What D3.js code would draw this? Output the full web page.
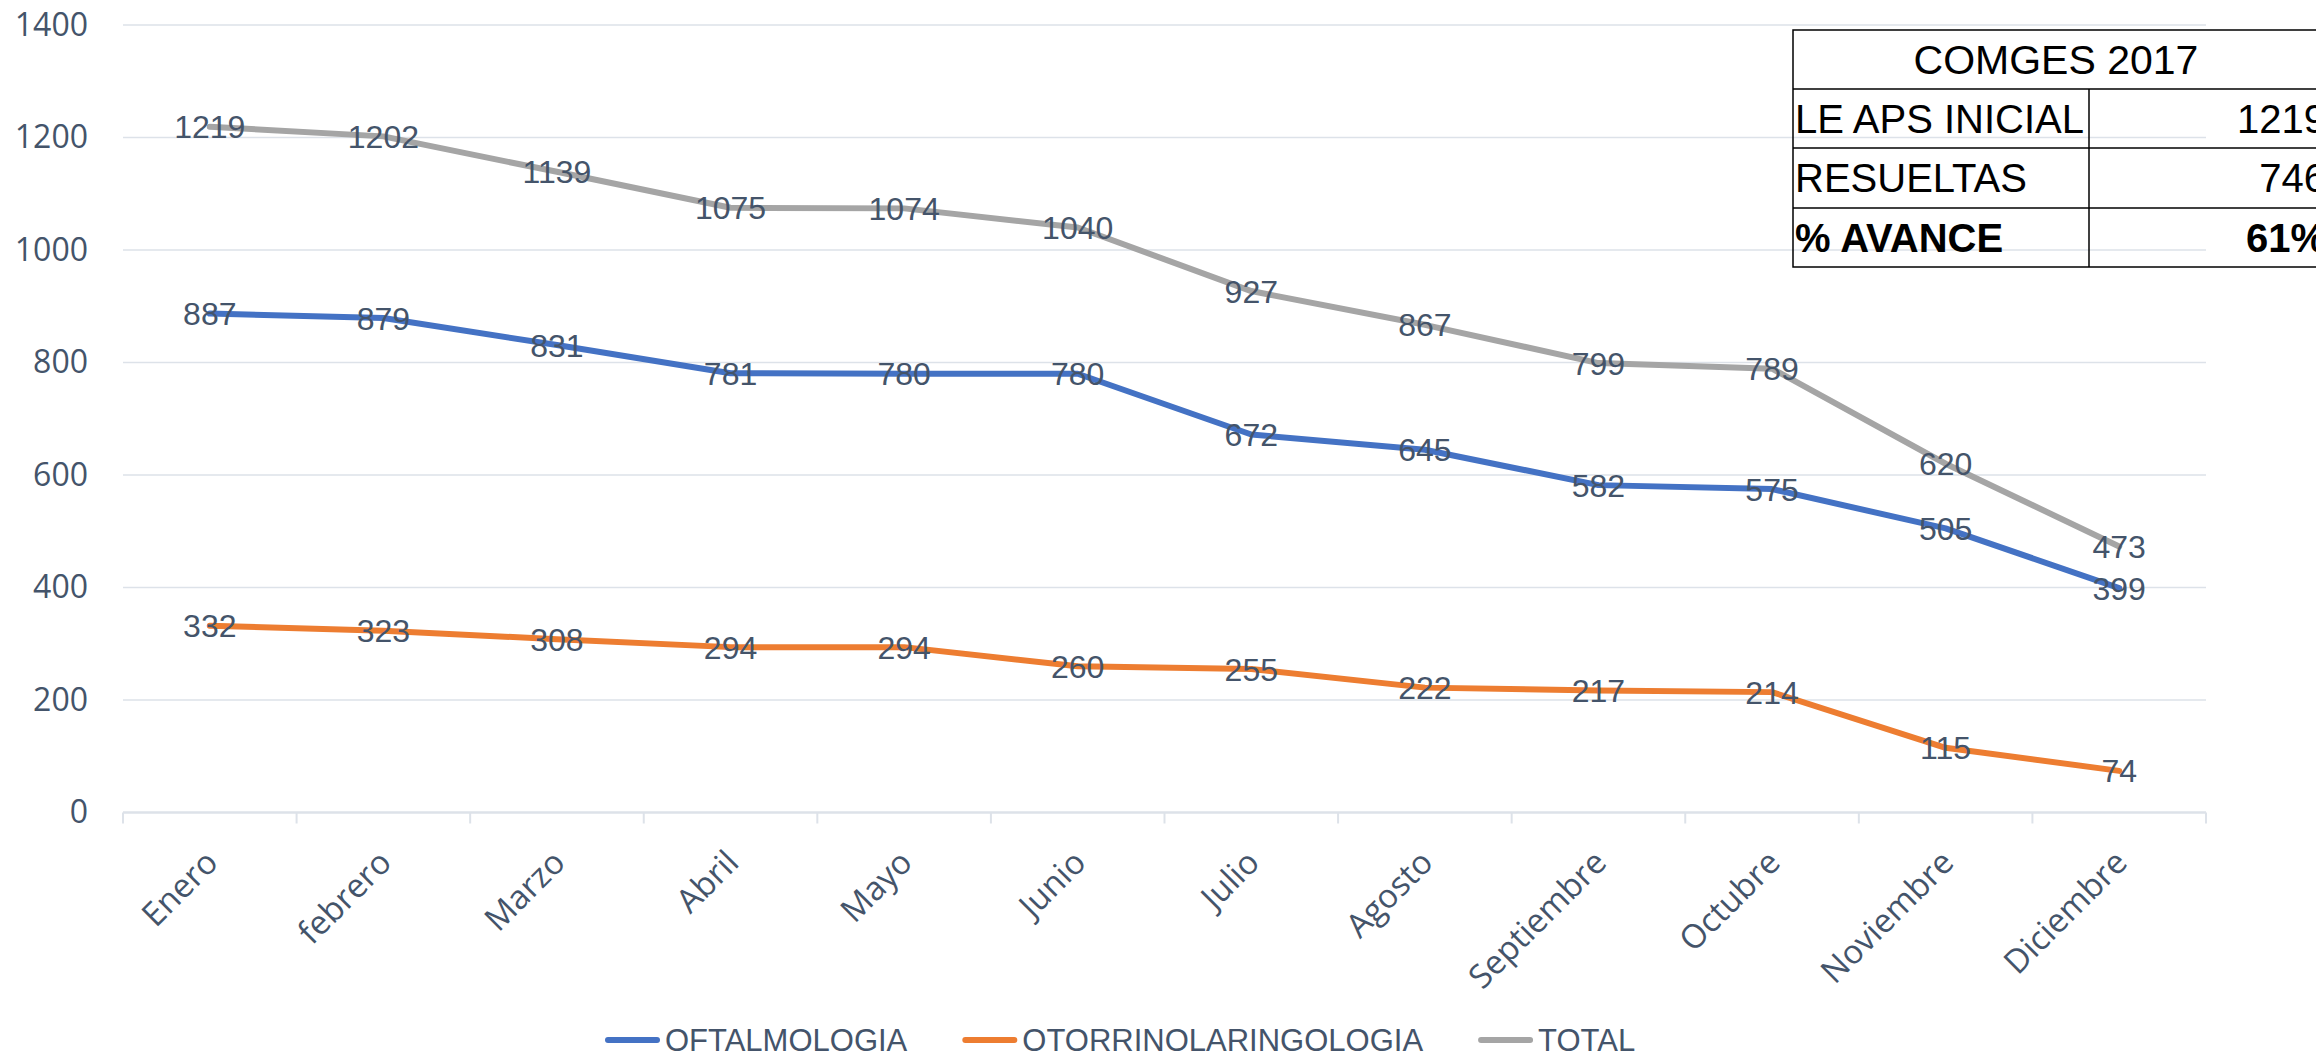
<!DOCTYPE html>
<html>
<head>
<meta charset="utf-8">
<script src="https://cdn.jsdelivr.net/npm/d3@7"></script>
<style>
  body { margin: 0; background: #fff; }
  svg { display: block; }
</style>
</head>
<body>
<div class="chart"></div>
<script>
// data
var months = ['Enero','febrero','Marzo','Abril','Mayo','Junio','Julio','Agosto','Septiembre','Octubre','Noviembre','Diciembre'];
var oftalmologia = [887,879,831,781,780,780,672,645,582,575,505,399];
var otorrino     = [332,323,308,294,294,260,255,222,217,214,115,74];
var total        = [1219,1202,1139,1075,1074,1040,927,867,799,789,620,473];
var seriesNames  = ['OFTALMOLOGIA','OTORRINOLARINGOLOGIA','TOTAL'];
var yTicks       = [0,200,400,600,800,1000,1200,1400];

var tableTitle = 'COMGES 2017';
var tableLabels = ['LE APS INICIAL','RESUELTAS','% AVANCE'];
var tableValues = ['1219','746','61%'];

// layout
var W = 2316, H = 1057,
    plotLeft = 123, plotRight = 2206, plotTop = 25, plotBottom = 812.5,
    colors = ['#4472C4','#ED7D31','#A5A5A5'],
    textColor = '#44546A',
    gridColor = '#DDE2E9';

var series = [oftalmologia, otorrino, total];

var x = d3.scaleBand().domain(months).range([plotLeft, plotRight]);
var y = d3.scaleLinear().domain([0, 1400]).range([plotBottom, plotTop]);

var svg = d3.select('.chart')
    .append('svg')
    .attr('width', W)
    .attr('height', H);

// gridlines
svg.append('g')
    .selectAll('line')
    .data(yTicks.filter(function(d){ return d > 0; }))
    .enter()
    .append('line')
    .attr('x1', plotLeft).attr('x2', plotRight)
    .attr('y1', function(d){ return y(d); })
    .attr('y2', function(d){ return y(d); })
    .attr('stroke', gridColor)
    .attr('stroke-width', 1.6);

// y axis labels
var yAxis = d3.axisLeft(y).tickValues(yTicks).tickSize(0).tickPadding(35).tickFormat(d3.format('d'));
svg.append('g')
    .attr('transform', 'translate(' + plotLeft + ',0)')
    .call(yAxis)
    .call(function(g){ g.select('.domain').remove(); })
    .selectAll('text')
    .attr('fill', textColor)
    .style('font-family', '"Open Sans", sans-serif')
    .style('font-size', '32px');

// x axis line + boundary ticks
var xg = svg.append('g');
xg.append('line')
    .attr('x1', plotLeft).attr('x2', plotRight)
    .attr('y1', plotBottom).attr('y2', plotBottom)
    .attr('stroke', gridColor).attr('stroke-width', 2.4);
var bounds = months.map(function(m){ return x(m); }).concat([plotRight]);
xg.selectAll('.tk')
    .data(bounds)
    .enter()
    .append('line')
    .attr('x1', function(d){ return d; }).attr('x2', function(d){ return d; })
    .attr('y1', plotBottom).attr('y2', plotBottom + 11)
    .attr('stroke', gridColor).attr('stroke-width', 2);

var xAxis = d3.axisBottom(x).tickSize(0);
svg.append('g')
    .attr('transform', 'translate(0,' + plotBottom + ')')
    .call(xAxis)
    .call(function(g){ g.select('.domain').remove(); })
    .selectAll('text')
    .attr('x', 0).attr('y', 0).attr('dy', 0)
    .attr('transform', 'translate(10,52) rotate(-45)')
    .style('text-anchor', 'end')
    .attr('fill', textColor)
    .style('font-family', '"Open Sans", sans-serif')
    .style('font-size', '33px');

// lines
var line = d3.line()
    .x(function(d, i){ return x(months[i]) + x.bandwidth() / 2; })
    .y(function(d){ return y(d); });

svg.append('g')
    .selectAll('path')
    .data(series)
    .enter()
    .append('path')
    .attr('d', line)
    .attr('fill', 'none')
    .attr('stroke', function(d, i){ return colors[i]; })
    .attr('stroke-width', 6)
    .attr('stroke-linejoin', 'round')
    .attr('stroke-linecap', 'round');

// data labels
series.forEach(function(s){
    svg.append('g')
        .selectAll('text')
        .data(s)
        .enter()
        .append('text')
        .attr('x', function(d, i){ return x(months[i]) + x.bandwidth() / 2; })
        .attr('y', function(d){ return y(d); })
        .attr('dy', '0.36em')
        .attr('text-anchor', 'middle')
        .attr('fill', textColor)
        .style('font-family', '"Liberation Sans", Arial, sans-serif')
        .style('font-size', '32px')
        .text(function(d){ return d; });
});

// table (right side runs past the picture edge, like the reference)
var tx0 = 1793, tx1 = 2089, tx2 = 2330, ty = [30, 89, 148, 208, 267];
var tbl = svg.append('g')
    .style('font-family', '"Liberation Sans", Arial, sans-serif')
    .style('font-size', '40px')
    .attr('fill', '#000');

tbl.append('rect')
    .attr('x', tx0).attr('y', ty[0])
    .attr('width', tx2 - tx0).attr('height', ty[4] - ty[0])
    .attr('fill', 'none').attr('stroke', '#000').attr('stroke-width', 1.5);
tbl.selectAll('.hl')
    .data(ty.slice(1, 4))
    .enter()
    .append('line')
    .attr('x1', tx0).attr('x2', tx2)
    .attr('y1', function(d){ return d; }).attr('y2', function(d){ return d; })
    .attr('stroke', '#000').attr('stroke-width', 1.5);
tbl.append('line')
    .attr('x1', tx1).attr('x2', tx1)
    .attr('y1', ty[1]).attr('y2', ty[4])
    .attr('stroke', '#000').attr('stroke-width', 1.5);

tbl.append('text')
    .attr('x', 2056).attr('y', (ty[0] + ty[1]) / 2 + 14)
    .attr('text-anchor', 'middle')
    .style('font-size', '41px')
    .text(tableTitle);

tableLabels.forEach(function(lbl, i){
    var bold = i === tableLabels.length - 1 ? 'bold' : 'normal';
    var by = (ty[i + 1] + ty[i + 2]) / 2 + 14;
    tbl.append('text')
        .attr('x', tx0 + 2).attr('y', by)
        .style('font-weight', bold)
        .text(lbl);
    tbl.append('text')
        .attr('x', 2326).attr('y', by)
        .attr('text-anchor', 'end')
        .style('font-weight', bold)
        .text(tableValues[i]);
});

// legend
var ly = 1040, lx = 605;
var lg = svg.append('g');
seriesNames.forEach(function(name, i){
    lg.append('line')
        .attr('x1', lx + 3).attr('x2', lx + 52)
        .attr('y1', ly).attr('y2', ly)
        .attr('stroke', colors[i])
        .attr('stroke-width', 6)
        .attr('stroke-linecap', 'round');
    var t = lg.append('text')
        .attr('x', lx + 60).attr('y', ly)
        .attr('dy', '0.36em')
        .attr('fill', textColor)
        .style('font-family', '"Liberation Sans", Arial, sans-serif')
        .style('font-size', '31px')
        .text(name);
    lx += 60 + t.node().getComputedTextLength() + 55;
});
</script>
</body>
</html>
